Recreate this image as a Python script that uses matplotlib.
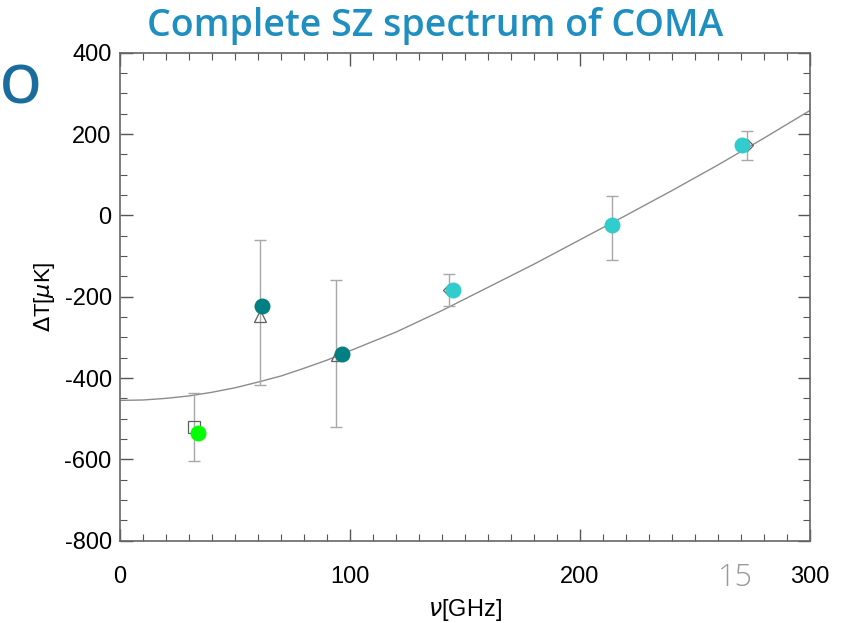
import matplotlib.pyplot as plt
from matplotlib.ticker import MultipleLocator

plt.rcParams['axes.unicode_minus'] = False

# fitted SZ curve
curve_nu = [0, 10, 20, 30, 40, 50, 60, 70, 80, 90, 100, 120, 140, 160, 180,
            200, 220, 240, 260, 280, 300]
curve_dt = [-455, -454, -450, -444, -435, -424, -410, -395, -376, -356, -333,
            -287, -234, -177, -120, -60, 0, 61, 124, 190, 258]

# measurements with error bars (hollow markers)
meas_nu = [32, 61, 94, 143, 214, 272.5]
meas_dt = [-520, -247, -345, -183, -24, 173]
err_top = [-437, -60, -160, -145, 48, 208]
err_bot = [-604, -417, -520, -223, -110, 136]
meas_mark = ['s', '^', '^', 'D', 'D', 'D']
meas_size = [8, 8, 7, 6, 6, 6]

# filled circles
pt_nu = [34, 61.6, 96.4, 144.9, 214, 270.3]
pt_dt = [-535, -223, -341, -183, -24, 173]
pt_col = ['#00ff00', '#008080', '#008080', '#33cccc', '#33cccc', '#33cccc']

fig = plt.figure(figsize=(8.42, 6.23), dpi=100)
ax = fig.add_axes([0.1425, 0.1321, 0.8195, 0.7833])

ax.plot(curve_nu, curve_dt, color='#8c8c8c', lw=1.0, zorder=2)

for i in range(len(meas_nu)):
    lo = meas_dt[i] - err_bot[i]
    hi = err_top[i] - meas_dt[i]
    ax.errorbar(meas_nu[i], meas_dt[i], yerr=[[lo], [hi]], fmt='none',
                ecolor='#a8a8a8', elinewidth=1.0, capsize=4, capthick=1.0, zorder=3)
    ax.plot(meas_nu[i], meas_dt[i], marker=meas_mark[i], ms=meas_size[i], mfc='none',
            mec='#606060', mew=0.9, ls='none', zorder=3)

for i in range(len(pt_nu)):
    ax.plot(pt_nu[i], pt_dt[i], 'o', ms=11.5, color=pt_col[i], mec='none', zorder=4)

ax.set_xlim(0, 300)
ax.set_ylim(-800, 400)
ax.xaxis.set_major_locator(MultipleLocator(100))
ax.xaxis.set_minor_locator(MultipleLocator(10))
ax.yaxis.set_major_locator(MultipleLocator(200))
ax.yaxis.set_minor_locator(MultipleLocator(50))
ax.tick_params(which='both', direction='in', top=True, right=True,
               colors='#555555', labelcolor='black', labelsize=17,
               labelfontfamily='Liberation Sans')
ax.tick_params(which='major', length=9, width=1)
ax.tick_params(which='minor', length=5, width=0.8)
ax.tick_params(axis='x', pad=18)
ax.tick_params(axis='y', pad=6)
for s in ax.spines.values():
    s.set_color('#666666')
    s.set_linewidth(1.2)

ax.set_xlabel(r'$\nu$[GHz]', fontsize=17, family='Liberation Sans', labelpad=7)
ax.set_ylabel(r'$\Delta$T[$\mu$K]', fontsize=16, family='Liberation Sans', labelpad=5)

fig.text(0.517, 0.942, 'Complete SZ spectrum of COMA', ha='center', va='baseline',
         fontsize=27, color='#1e8fc0', family='Open Sans', fontweight='semibold')
fig.text(0.024, 0.855, 'O', ha='center', va='center', fontsize=38,
         color='#1a6c9e', family='Open Sans', fontweight='semibold')
fig.text(0.873, 0.072, '15', ha='center', va='center', fontsize=22,
         color='#9a9a9a', family='Open Sans', fontweight='light')

fig.savefig('out.png', dpi=100)
